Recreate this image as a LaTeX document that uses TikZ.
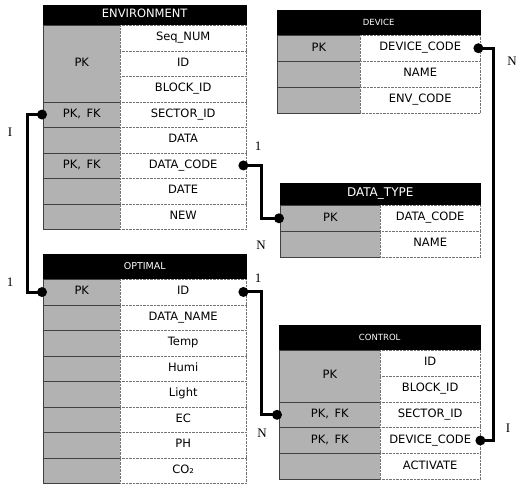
\documentclass[tikz,border=0pt]{standalone}
\usepackage{fontspec}
\newfontfamily\tsans{DejaVu Sans}
\newfontfamily\tserif{Liberation Serif}
\begin{document}
\begin{tikzpicture}[x=1pt,y=-1pt,
  hdr/.style={draw=black, fill=black, text=white, inner sep=0pt, anchor=north west, text height=0.75em, text depth=0.2em},
  keyc/.style={draw=black!75, line width=0.6pt, fill=black!30, inner sep=0pt, anchor=north west, font=\tsans\fontsize{11.5}{12}\selectfont, text height=0.75em, text depth=0.2em},
  fldc/.style={draw=black!55, densely dotted, fill=white, inner sep=0pt, anchor=north west, font=\tsans\fontsize{11.5}{12}\selectfont, text height=0.75em, text depth=0.2em},
  dot/.style={circle, fill=black, inner sep=0pt, minimum size=10pt},
  conn/.style={line width=3pt},
  card/.style={font=\tserif\fontsize{13}{14}\selectfont, inner sep=0pt}
]
\useasboundingbox (0,0) rectangle (516,485);
\fill[white] (0,0) rectangle (516,485);

% ---------- ENVIRONMENT ----------
\begin{scope}[every node/.append style={}]
\node[hdr, minimum width=203pt, minimum height=20pt, font=\tsans\fontsize{11.5}{12}\selectfont] (envh) at (43,5) {ENVIRONMENT};
\node[keyc, minimum width=77pt, minimum height=76.5pt] (envk1) at (43,25) {PK};
\node[keyc, minimum width=77pt, minimum height=25.5pt] (envk4) at (43,101.5) {PK,\, FK};
\node[keyc, minimum width=77pt, minimum height=25.5pt] (envk5) at (43,127) {};
\node[keyc, minimum width=77pt, minimum height=25.5pt] (envk6) at (43,152.5) {PK,\, FK};
\node[keyc, minimum width=77pt, minimum height=25.5pt] (envk7) at (43,178) {};
\node[keyc, minimum width=77pt, minimum height=25.5pt] (envk8) at (43,203.5) {};
\node[fldc, minimum width=126pt, minimum height=25.5pt] (envf1) at (120,25) {Seq\_NUM};
\node[fldc, minimum width=126pt, minimum height=25.5pt] (envf2) at (120,50.5) {ID};
\node[fldc, minimum width=126pt, minimum height=25.5pt] (envf3) at (120,76) {BLOCK\_ID};
\node[fldc, minimum width=126pt, minimum height=25.5pt] (envf4) at (120,101.5) {SECTOR\_ID};
\node[fldc, minimum width=126pt, minimum height=25.5pt] (envf5) at (120,127) {DATA};
\node[fldc, minimum width=126pt, minimum height=25.5pt] (envf6) at (120,152.5) {DATA\_CODE};
\node[fldc, minimum width=126pt, minimum height=25.5pt] (envf7) at (120,178) {DATE};
\node[fldc, minimum width=126pt, minimum height=25.5pt] (envf8) at (120,203.5) {NEW};
\end{scope}

% ---------- OPTIMAL ----------
\node[hdr, minimum width=203pt, minimum height=25pt, font=\tsans\fontsize{9.5}{10}\selectfont] (opth) at (43,254) {OPTIMAL};
\node[keyc, minimum width=77pt, minimum height=25.5pt] (optk1) at (43,279) {PK};
\node[keyc, minimum width=77pt, minimum height=25.5pt] (optk2) at (43,304.5) {};
\node[keyc, minimum width=77pt, minimum height=25.5pt] (optk3) at (43,330) {};
\node[keyc, minimum width=77pt, minimum height=25.5pt] (optk4) at (43,355.5) {};
\node[keyc, minimum width=77pt, minimum height=25.5pt] (optk5) at (43,381) {};
\node[keyc, minimum width=77pt, minimum height=25.5pt] (optk6) at (43,406.5) {};
\node[keyc, minimum width=77pt, minimum height=25.5pt] (optk7) at (43,432) {};
\node[keyc, minimum width=77pt, minimum height=25.5pt] (optk8) at (43,457.5) {};
\node[fldc, minimum width=126pt, minimum height=25.5pt] (optf1) at (120,279) {ID};
\node[fldc, minimum width=126pt, minimum height=25.5pt] (optf2) at (120,304.5) {DATA\_NAME};
\node[fldc, minimum width=126pt, minimum height=25.5pt] (optf3) at (120,330) {Temp};
\node[fldc, minimum width=126pt, minimum height=25.5pt] (optf4) at (120,355.5) {Humi};
\node[fldc, minimum width=126pt, minimum height=25.5pt] (optf5) at (120,381) {Light};
\node[fldc, minimum width=126pt, minimum height=25.5pt] (optf6) at (120,406.5) {EC};
\node[fldc, minimum width=126pt, minimum height=25.5pt] (optf7) at (120,432) {PH};
\node[fldc, minimum width=126pt, minimum height=25.5pt] (optf8) at (120,457.5) {CO₂};

% ---------- DEVICE ----------
\node[hdr, minimum width=203pt, minimum height=25pt, font=\tsans\fontsize{8.5}{9}\selectfont] (devh) at (277,10) {DEVICE};
\node[keyc, minimum width=83pt, minimum height=26pt] (devk1) at (277,35) {PK};
\node[keyc, minimum width=83pt, minimum height=26pt] (devk2) at (277,61) {};
\node[keyc, minimum width=83pt, minimum height=26pt] (devk3) at (277,87) {};
\node[fldc, minimum width=120pt, minimum height=26pt] (devf1) at (360,35) {DEVICE\_CODE};
\node[fldc, minimum width=120pt, minimum height=26pt] (devf2) at (360,61) {NAME};
\node[fldc, minimum width=120pt, minimum height=26pt] (devf3) at (360,87) {ENV\_CODE};

% ---------- DATA_TYPE ----------
\node[hdr, minimum width=200pt, minimum height=22pt, font=\tsans\fontsize{12}{13}\selectfont] (dth) at (280,183) {DATA\_TYPE};
\node[keyc, minimum width=100pt, minimum height=26pt] (dtk1) at (280,205) {PK};
\node[keyc, minimum width=100pt, minimum height=26pt] (dtk2) at (280,231) {};
\node[fldc, minimum width=100pt, minimum height=26pt] (dtf1) at (380,205) {DATA\_CODE};
\node[fldc, minimum width=100pt, minimum height=26pt] (dtf2) at (380,231) {NAME};

% ---------- CONTROL ----------
\node[hdr, minimum width=201pt, minimum height=25pt, font=\tsans\fontsize{8.5}{9}\selectfont] (ctlh) at (279,325) {CONTROL};
\node[keyc, minimum width=101pt, minimum height=51.6pt] (ctlk1) at (279,350) {PK};
\node[keyc, minimum width=101pt, minimum height=25.8pt] (ctlk3) at (279,401.6) {PK,\, FK};
\node[keyc, minimum width=101pt, minimum height=25.8pt] (ctlk4) at (279,427.4) {PK,\, FK};
\node[keyc, minimum width=101pt, minimum height=25.8pt] (ctlk5) at (279,453.2) {};
\node[fldc, minimum width=100pt, minimum height=25.8pt] (ctlf1) at (380,350) {ID};
\node[fldc, minimum width=100pt, minimum height=25.8pt] (ctlf2) at (380,375.8) {BLOCK\_ID};
\node[fldc, minimum width=100pt, minimum height=25.8pt] (ctlf3) at (380,401.6) {SECTOR\_ID};
\node[fldc, minimum width=100pt, minimum height=25.8pt] (ctlf4) at (380,427.4) {DEVICE\_CODE};
\node[fldc, minimum width=100pt, minimum height=25.8pt] (ctlf5) at (380,453.2) {ACTIVATE};

% ---------- dots ----------
\node[dot] (ed1) at ([xshift=-1pt]envk4.west) {};
\node[dot] (ed2) at ([xshift=-3pt]envf6.east) {};
\node[dot] (od1) at ([xshift=-1pt]optk1.west) {};
\node[dot] (od2) at ([xshift=-3pt]optf1.east) {};
\node[dot] (dd1) at ([xshift=-1pt]dtk1.west) {};
\node[dot] (cd1) at ([xshift=-2pt]ctlk3.west) {};
\node[dot] (vd1) at ([xshift=-2pt]devf1.east) {};
\node[dot] (cd2) at (ctlf4.east) {};

\coordinate (lx) at (27,200);
\coordinate (mx1) at (261,190);
\coordinate (mx2) at (261,350);
\coordinate (rx) at (493,250);

\draw[conn] (ed1.center) -| (lx) |- (od1.center);
\draw[conn] (ed2.center) -| (mx1) |- (dd1.center);
\draw[conn] (od2.center) -| (mx2) |- (cd1.center);
\draw[conn] (vd1.center) -| (rx) |- (cd2.center);

% ---------- cardinalities ----------
\node[card] (c1) at (10,132) {I};
\node[card] (c2) at (10,282) {1};
\node[card] (c3) at (258,146) {1};
\node[card] (c4) at (261,245) {N};
\node[card] (c5) at (258,278) {1};
\node[card] (c6) at (262,433) {N};
\node[card] (c7) at (512,61) {N};
\node[card] (c8) at (508,428) {I};
\end{tikzpicture}
\end{document}
